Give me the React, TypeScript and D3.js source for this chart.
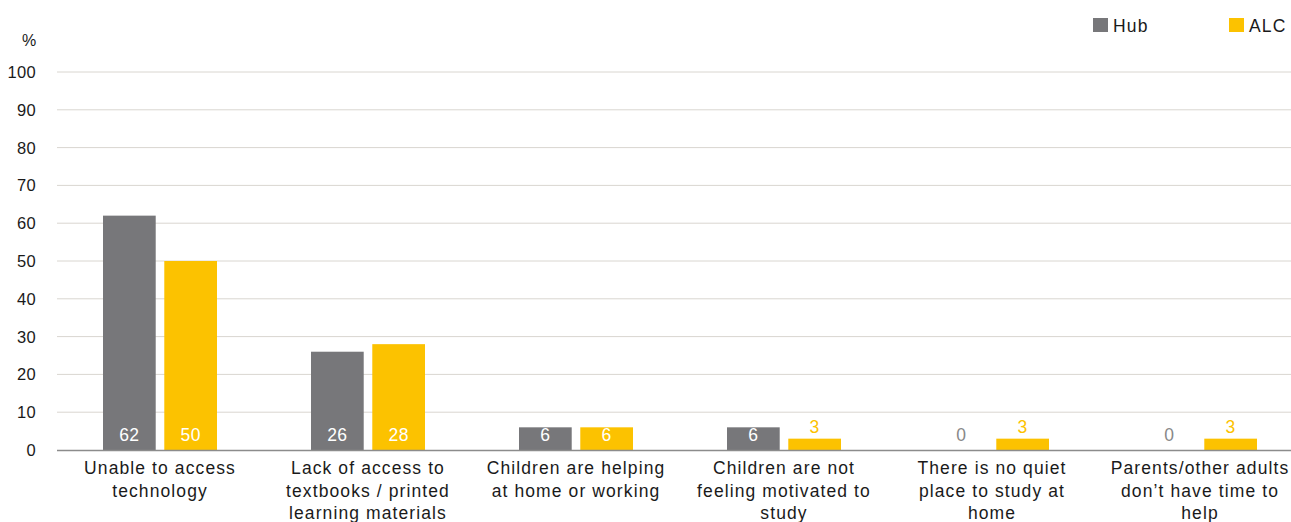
import React from "react";
import * as d3 from "d3";

const categories: string[][] = [
  ["Unable to access", "technology"],
  ["Lack of access to", "textbooks / printed", "learning materials"],
  ["Children are helping", "at home or working"],
  ["Children are not", "feeling motivated to", "study"],
  ["There is no quiet", "place to study at", "home"],
  ["Parents/other adults", "don\u2019t have time to", "help"],
];
const hubValues = [62, 26, 6, 6, 0, 0];
const alcValues = [50, 28, 6, 3, 3, 3];
const yTicks = [0, 10, 20, 30, 40, 50, 60, 70, 80, 90, 100];
const seriesNames = ["Hub", "ALC"];

const W = 1291;
const H = 522;
const HUB = "#77777a";
const ALC = "#fcc200";
const FONT = "'Liberation Sans', Arial, Helvetica, sans-serif";

export default function App() {
  const x = d3.scaleBand<number>().domain(d3.range(categories.length)).range([56, 1304]);
  const y = d3.scaleLinear().domain([0, 100]).range([450, 72]);
  const sub = d3.scaleBand<number>().domain([0, 1]).range([0, 114]).paddingInner(0.14);
  const bw = sub.bandwidth();
  const series = [hubValues, alcValues];
  const colors = [HUB, ALC];

  return (
    <svg width={W} height={H} style={{ position: "absolute", left: 0, top: 0, fontFamily: FONT }}>
      <rect width={W} height={H} fill="#fff" />
      {yTicks.map((t) =>
        t === 0 ? null : (
          <line key={t} x1={57} x2={W} y1={y(t)} y2={y(t)} stroke="#d9d6d0" strokeWidth={1} />
        )
      )}
      {yTicks.map((t) => (
        <text key={"l" + t} x={36} y={y(t) + 6} textAnchor="end" fontSize={16.5} fill="#1a1a1a" letterSpacing={0.3}>
          {t}
        </text>
      ))}
      <text x={29} y={46} textAnchor="middle" fontSize={16} fill="#1a1a1a">%</text>
      {categories.map((_, i) => {
        const cx = x(i)! + x.bandwidth() / 2;
        const gx = cx - 57;
        return (
          <g key={i}>
            {series.map((vals, s) => {
              const v = vals[i];
              const bx = gx + sub(s)!;
              const top = y(v);
              const h = y(0) - top;
              const inside = h >= 20;
              return (
                <g key={s}>
                  {v > 0 && <rect x={bx} y={top} width={bw} height={h} fill={colors[s]} />}
                  <text
                    x={bx + bw / 2}
                    y={inside || v === 0 ? 441 : top - 6}
                    textAnchor="middle"
                    fontSize={17.5}
                    letterSpacing={0.4}
                    fill={inside ? "#fff" : v === 0 ? "#888888" : colors[s]}
                  >
                    {v}
                  </text>
                </g>
              );
            })}
          </g>
        );
      })}
      <line x1={57} x2={W} y1={450.5} y2={450.5} stroke="#8c8c8c" strokeWidth={1.5} />
      {categories.map((lines, i) => {
        const cx = x(i)! + x.bandwidth() / 2;
        return (
          <text key={"c" + i} textAnchor="middle" fontSize={17.5} fill="#1a1a1a" letterSpacing={1.1}>
            {lines.map((ln, j) => (
              <tspan key={j} x={cx} y={474 + j * 22.5}>
                {ln}
              </tspan>
            ))}
          </text>
        );
      })}
      {seriesNames.map((n, s) => {
        const lx = s === 0 ? 1093 : 1229;
        return (
          <g key={n}>
            <rect x={lx} y={18} width={15} height={14} fill={colors[s]} />
            <text x={lx + 20} y={32} fontSize={17.5} fill="#1a1a1a" letterSpacing={1.2}>{n}</text>
          </g>
        );
      })}
    </svg>
  );
}
